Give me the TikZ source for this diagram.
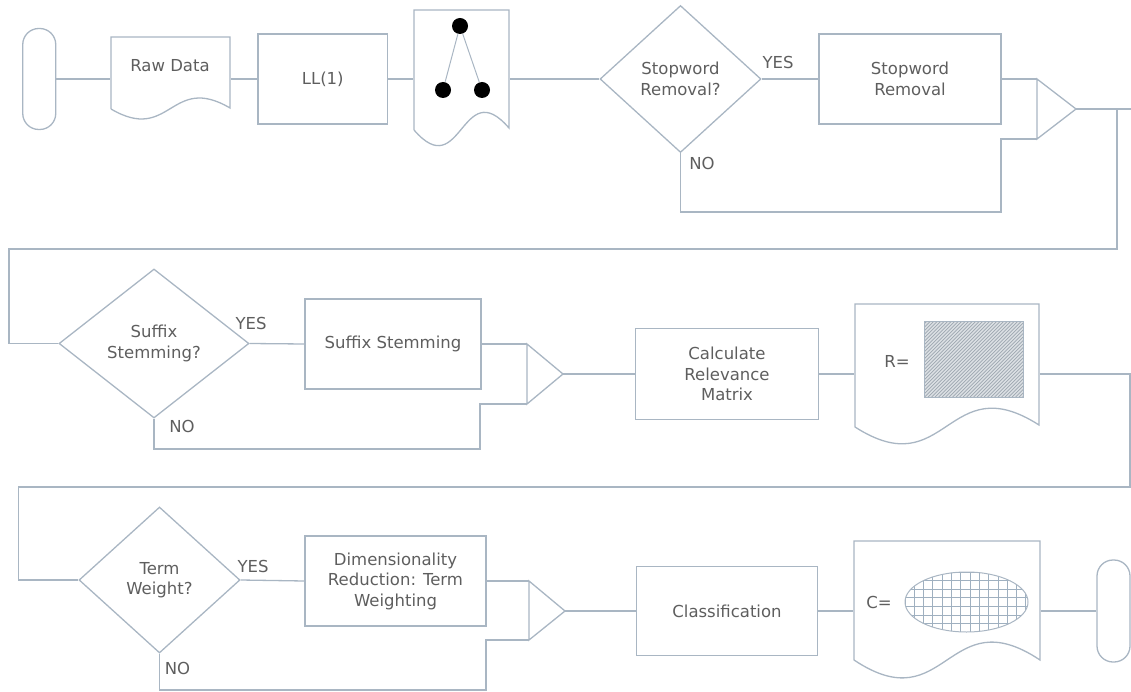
\documentclass[tikz,border=0pt]{standalone}
\usepackage{fontspec}
\setmainfont{DejaVu Sans}
\usetikzlibrary{shapes.geometric}
\definecolor{edge}{HTML}{A9B6C3}
\definecolor{ink}{HTML}{5E5E5E}
\definecolor{hatchfill}{HTML}{DCE0E4}
\definecolor{hatchline}{HTML}{9CA6B0}
\definecolor{gridline}{HTML}{9FB0C0}

\begin{document}
\begin{tikzpicture}[x=1pt,y=-1pt,line width=1.3pt,
  every node/.style={font=\fontsize{16.5}{20.5}\selectfont,text=ink,inner sep=0pt,align=center},
  flow/.style={draw=edge},
  proc/.style={draw=edge,rectangle},
  term/.style={draw=edge,rectangle,rounded corners=16pt,minimum width=33pt,minimum height=101pt},
  decision/.style={draw=edge,diamond},
  frame/.style={rectangle},
  dot/.style={circle,fill=black,minimum size=16pt},
  thin/.style={draw=edge,line width=1pt}
]
\useasboundingbox (0,0) rectangle (1131,692);

% ---------- first row ----------
\node[term] (start) at (39.25,79) {};

\draw[flow] (111,109) -- (111,37) -- (230,37) -- (230,108)
  .. controls (170.5,73) and (170.5,144) .. (111,109);
\node[frame,minimum width=119pt,minimum height=84pt] (raw) at (170.5,79) {};
\node (rawtxt) at (170,66) {Raw Data};

\node[proc,minimum width=129.5pt,minimum height=90pt] (ll1) at (322.75,79) {LL(1)};

\draw[flow] (414,130) -- (414,10) -- (509,10) -- (509,128)
  .. controls (461.5,73) and (461.5,185) .. (414,130);
\node[frame,minimum width=95pt,minimum height=138pt] (tree) at (461.5,79) {};
\node[dot] (t0) at (460,26) {};
\node[dot] (t1) at (443,90) {};
\node[dot] (t2) at (482,90) {};
\draw[thin] (t0) -- (t1);
\draw[thin] (t0) -- (t2);

\node[decision,minimum width=161pt,minimum height=147pt] (q1) at (680.5,79) {Stopword\\Removal?};
\node (yes1) at (778,62) {YES};
\node (no1) at (702,163) {NO};

\node[proc,minimum width=182pt,minimum height=90pt] (box1) at (910,79) {Stopword\\Removal};

\coordinate (m1t) at (1037,79);
\coordinate (m1b) at (1037,139);
\coordinate (m1o) at (1076,109);
\draw[flow] (m1t) -- (m1b) -- (m1o) -- cycle;

\coordinate (l1) at (1001,212);
\coordinate (r1) at (1131,109);
\coordinate (j1) at (1117,109);
\coordinate (c1) at (9,249);

% ---------- second row ----------
\node[decision,minimum width=190pt,minimum height=149pt] (q2) at (154,343.5) {Suffix\\Stemming?};
\node (yes2) at (251,323) {YES};
\node (no2) at (182,426) {NO};

\node[proc,minimum width=176pt,minimum height=90pt] (box2) at (393,344) {Suffix Stemming};

\coordinate (m2t) at (527,344);
\coordinate (m2b) at (527,404);
\coordinate (m2o) at (563,374);
\draw[flow] (m2t) -- (m2b) -- (m2o) -- cycle;
\coordinate (l2) at (480,449);

\node[proc,minimum width=183pt,minimum height=91pt] (box3) at (727,374) {Calculate\\Relevance\\Matrix};

\draw[flow] (855,427) -- (855,304) -- (1039,304) -- (1039,425)
  .. controls (947,366) and (947,486) .. (855,427);
\node[frame,minimum width=184pt,minimum height=140pt] (rdoc) at (947,374) {};
\node (req) at (897,361) {R=};
\begin{scope}
  \clip (924,321) rectangle (1023,397);
  \fill[hatchfill] (924,321) rectangle (1023,397);
  \foreach \k in {-80,-76.5,...,100}
    \draw[hatchline,line width=0.7pt] (924+\k,397) -- (1004+\k,317);
\end{scope}
\node[draw=edge,line width=1pt,rectangle,minimum width=99pt,minimum height=76pt] (rmat) at (973.5,359) {};

\coordinate (j2) at (1130,374);
\coordinate (c2) at (18.6,487);

% ---------- third row ----------
\node[decision,minimum width=161pt,minimum height=146pt] (q3) at (159.5,580) {Term\\Weight?};
\node (yes3) at (253,566) {YES};
\node (no3) at (177.5,668) {NO};

\node[proc,minimum width=181pt,minimum height=90pt] (box4) at (395.5,581) {Dimensionality\\Reduction: Term\\Weighting};

\coordinate (m3t) at (529,581);
\coordinate (m3b) at (529,640);
\coordinate (m3o) at (565,611);
\draw[flow] (m3t) -- (m3b) -- (m3o) -- cycle;
\coordinate (l3) at (486,690);

\node[proc,minimum width=181.5pt,minimum height=89pt] (box5) at (727,611) {Classification};

\draw[flow] (854,660) -- (854,541) -- (1040,541) -- (1040,660)
  .. controls (947,598) and (947,722) .. (854,660);
\node[frame,minimum width=186pt,minimum height=140pt] (cdoc) at (947,611) {};
\node (ceq) at (879,602) {C=};
\begin{scope}
  \clip (966.5,602) ellipse [x radius=61.5pt,y radius=30pt];
  \foreach \k in {0,...,13}
    \draw[gridline,line width=0.9pt] (905+9.3*\k,570) -- (905+9.3*\k,634);
  \foreach \k in {0,...,7}
    \draw[gridline,line width=0.9pt] (904,572+8.6*\k) -- (1029,572+8.6*\k);
\end{scope}
\node[draw=edge,line width=1pt,ellipse,minimum width=123pt,minimum height=60pt] (cset) at (966.5,602) {};

\node[term,minimum height=102pt] (stop) at (1113.5,611) {};

% ---------- connectors ----------
\draw[flow] (start.east) -- (raw.west);
\draw[flow] (raw.east) -- (ll1.west);
\draw[flow] (ll1.east) -- (tree.west);
\draw[flow] (tree.east) -- (q1.west);
\draw[flow] (q1.east) -- (box1.west);
\draw[flow] (box1.east) -- (m1t);
\draw[flow] (q1.south) |- (l1) |- (m1b);
\draw[flow] (m1o) -- (r1);
\draw[flow] (j1) |- (c1) |- (q2.west);

\draw[flow] (q2.east) -- (box2.west);
\draw[flow] (box2.east) -- (m2t);
\draw[flow] (q2.south) |- (l2) |- (m2b);
\draw[flow] (m2o) -- (box3.west);
\draw[flow] (box3.east) -- (rdoc.west);
\draw[flow] (rdoc.east) -- (j2) |- (c2) |- (q3.west);

\draw[flow] (q3.east) -- (box4.west);
\draw[flow] (box4.east) -- (m3t);
\draw[flow] (q3.south) |- (l3) |- (m3b);
\draw[flow] (m3o) -- (box5.west);
\draw[flow] (box5.east) -- (cdoc.west);
\draw[flow] (cdoc.east) -- (stop.west);
\end{tikzpicture}
\end{document}
